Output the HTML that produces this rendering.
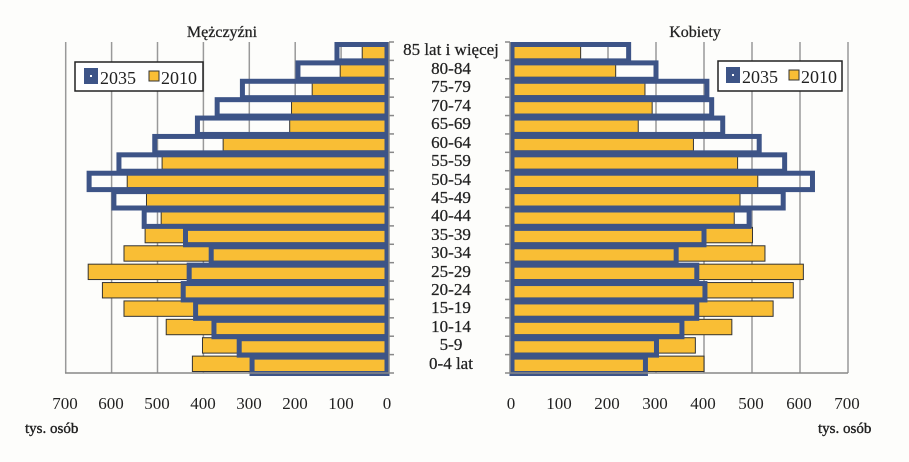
<!DOCTYPE html>
<html><head><meta charset="utf-8"><style>
html,body{margin:0;padding:0;background:#fff;}
svg{display:block;font-family:"Liberation Serif",serif;}
</style></head><body>
<svg id="s" width="909" height="462" xmlns="http://www.w3.org/2000/svg">
<rect width="909" height="462" fill="#fdfdfb"/>
<g id="grid" stroke="#999" stroke-width="1.5"></g>
<g id="bars"></g>
<g id="axes" stroke="#888" stroke-width="1.5"></g>
<g font-size="16" fill="#222" text-anchor="middle" stroke="#222" stroke-width="0.25">
<text x="222" y="37">Mężczyźni</text>
<text x="695" y="37">Kobiety</text>
</g>
<g font-size="17" fill="#222" text-anchor="middle" stroke="#222" stroke-width="0.25">
<text x="451" y="55">85 lat i więcej</text>
<text x="451" y="74">80-84</text>
<text x="451" y="92">75-79</text>
<text x="451" y="111">70-74</text>
<text x="451" y="129">65-69</text>
<text x="451" y="148">60-64</text>
<text x="451" y="166">55-59</text>
<text x="451" y="185">50-54</text>
<text x="451" y="203">45-49</text>
<text x="451" y="221">40-44</text>
<text x="451" y="240">35-39</text>
<text x="451" y="258">30-34</text>
<text x="451" y="277">25-29</text>
<text x="451" y="295">20-24</text>
<text x="451" y="313">15-19</text>
<text x="451" y="332">10-14</text>
<text x="451" y="350">5-9</text>
<text x="451" y="369">0-4 lat</text>
</g>
<g font-size="17" fill="#222" text-anchor="middle">
<text x="65" y="409">700</text><text x="111" y="409">600</text><text x="157" y="409">500</text><text x="203" y="409">400</text><text x="249" y="409">300</text><text x="295" y="409">200</text><text x="341" y="409">100</text><text x="387" y="409">0</text>
<text x="511" y="409">0</text><text x="559" y="409">100</text><text x="607" y="409">200</text><text x="655" y="409">300</text><text x="703" y="409">400</text><text x="751" y="409">500</text><text x="799" y="409">600</text><text x="847" y="409">700</text>
</g>
<g font-size="15" fill="#222" stroke="#222" stroke-width="0.4">
<text x="25" y="433">tys. osób</text>
<text x="818" y="433">tys. osób</text>
</g>
<rect x="75" y="62" width="128" height="29" fill="#fff" stroke="#222" stroke-width="1.5"/>
<rect x="84" y="68" width="14" height="16" fill="#3d5487"/>
<rect x="90" y="75" width="2" height="2" fill="#fff"/>
<text x="100" y="84" font-size="18" fill="#222">2035</text>
<rect x="149" y="71" width="10" height="10" fill="#f9be35" stroke="#333" stroke-width="1"/>
<text x="161" y="84" font-size="18" fill="#222">2010</text>
<rect x="718" y="61" width="124" height="30" fill="#fff" stroke="#222" stroke-width="1.5"/>
<rect x="726" y="67" width="14" height="16" fill="#3d5487"/>
<rect x="732" y="74" width="2" height="2" fill="#fff"/>
<text x="742" y="83" font-size="18" fill="#222">2035</text>
<rect x="789" y="70" width="10" height="10" fill="#f9be35" stroke="#333" stroke-width="1"/>
<text x="801" y="83" font-size="18" fill="#222">2010</text>
</svg>
<script>
(function(){
var NS="http://www.w3.org/2000/svg";
function el(p,t,a){var e=document.createElementNS(NS,t);for(var k in a)e.setAttribute(k,a[k]);p.appendChild(e);return e;}
var men=[[54,109],[102,194],[163,315],[208,370],[212,413],[357,506],[490,584],[566,649],[524,595],[492,529],[527,439],[573,383],[651,431],[620,444],[573,417],[481,377],[402,322],[424,294]];
var wom=[[143,243],[216,300],[277,406],[292,416],[263,439],[378,515],[470,568],[512,626],[475,565],[463,494],[501,400],[527,342],[607,385],[586,402],[544,385],[458,354],[382,301],[400,278]];
var T0=42,B0=373,rh=(B0-T0)/18,L0=387,Ls=0.459,R0=512,Rs=0.48;
var g=document.getElementById("grid"),b=document.getElementById("bars"),ax=document.getElementById("axes");
for(var i=1;i<=7;i++){el(g,"line",{x1:L0-i*100*Ls,x2:L0-i*100*Ls,y1:T0,y2:B0});el(g,"line",{x1:R0+i*100*Rs,x2:R0+i*100*Rs,y1:T0,y2:B0});}
for(var i=0;i<18;i++){var y=T0+i*rh;
var m=men[i],w=wom[i];
el(b,"rect",{x:L0-m[0]*Ls,y:y+1.5,width:m[0]*Ls,height:rh-3,fill:"#f9be35",stroke:"#333","stroke-width":1});
el(b,"rect",{x:R0,y:y+1.5,width:w[0]*Rs,height:rh-3,fill:"#f9be35",stroke:"#333","stroke-width":1});
}
for(var i=0;i<18;i++){var y=T0+i*rh;var m=men[i],w=wom[i];
el(b,"rect",{x:L0-m[1]*Ls,y:y+2.5,width:m[1]*Ls,height:rh-2,fill:"none",stroke:"#3d5487","stroke-width":5});
el(b,"rect",{x:R0,y:y+2.5,width:w[1]*Rs,height:rh-2,fill:"none",stroke:"#3d5487","stroke-width":5});
}
el(ax,"line",{x1:65,x2:L0+2,y1:B0,y2:B0});el(ax,"line",{x1:L0+2,x2:L0+2,y1:T0,y2:B0});
el(ax,"line",{x1:R0-2,x2:848,y1:B0,y2:B0});el(ax,"line",{x1:R0-2,x2:R0-2,y1:T0,y2:B0});
for(var i=0;i<=18;i++){var y=T0+i*rh;el(ax,"line",{x1:L0+2,x2:L0+7,y1:y,y2:y});el(ax,"line",{x1:R0-7,x2:R0-2,y1:y,y2:y});}
})();
</script>
</body></html>
